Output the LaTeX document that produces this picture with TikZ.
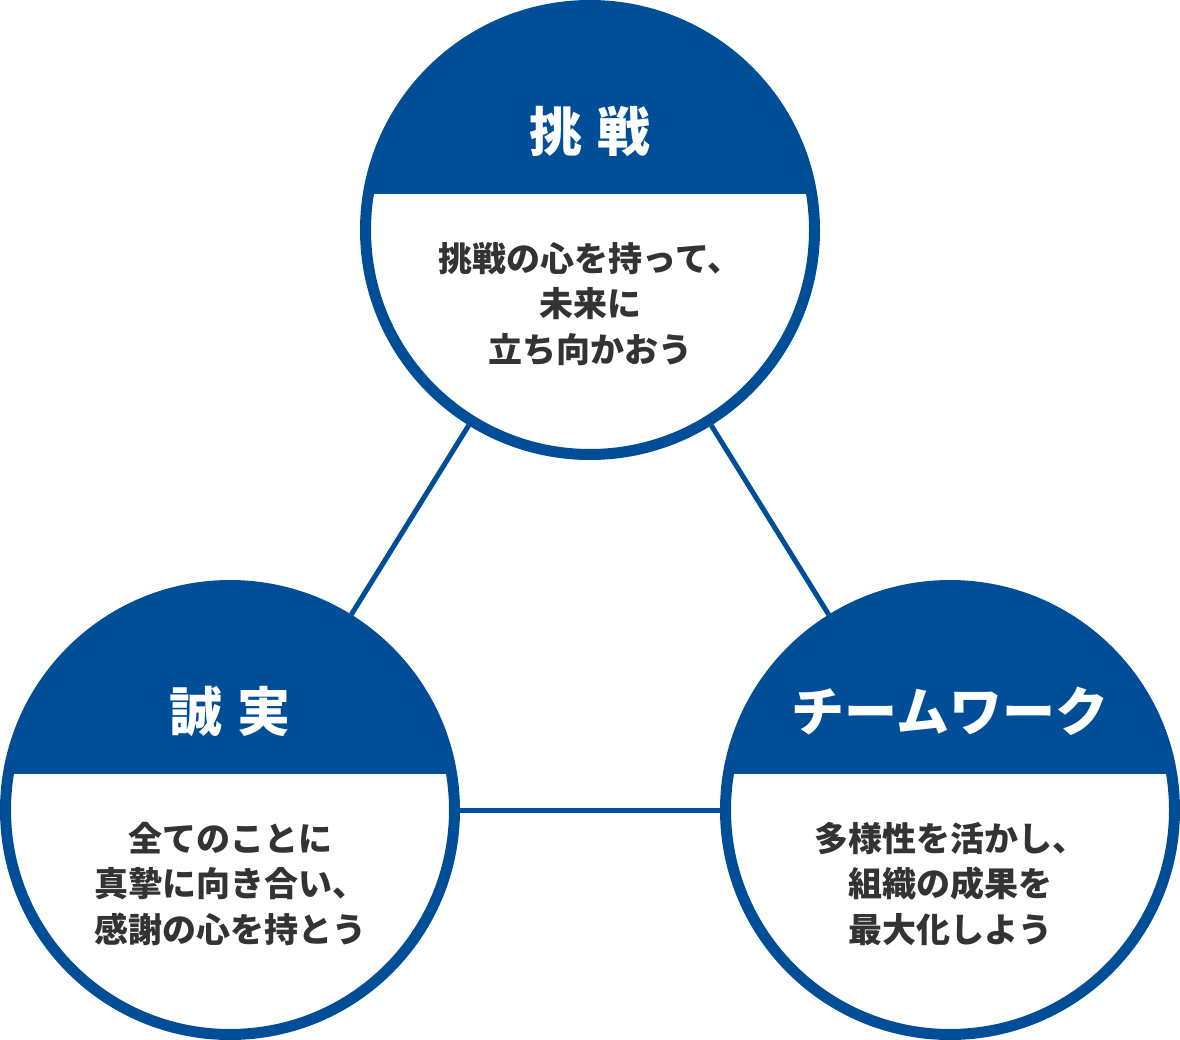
\documentclass[tikz,border=0pt]{standalone}
\usepackage{fontspec}
\setmainfont{Noto Sans CJK JP}
\usetikzlibrary{positioning}
\definecolor{kobalt}{RGB}{0,78,151}
\definecolor{sumi}{RGB}{51,51,51}

\begin{document}
\begin{tikzpicture}[x=1pt,y=-1pt,
   value/.style={circle,draw=kobalt,line width=11pt,fill=white,minimum size=449pt,inner sep=0pt,
      path picture={\fill[kobalt] (path picture bounding box.north west) rectangle ([yshift=36pt]path picture bounding box.east);}},
   head/.style={text=white,font=\fontsize{53}{60}\selectfont\bfseries},
   body/.style={text=sumi,align=center,font=\fontsize{34}{45.5}\selectfont\bfseries},
   link/.style={draw=kobalt,line width=5pt}]
\useasboundingbox (0,0) rectangle (1180,1040);
%
       \node [value] at (590,230) (challenge) {};
          \node [value] at (230,810) (honesty) {};
             \node [value] at (950,810) (teamwork) {};
%
\node [head] at ([yshift=99pt]challenge.center) (challenge head) {挑\hspace{0.28em}戦};
\node [head] at ([yshift=99pt]honesty.center) (honesty head) {誠\hspace{0.28em}実};
\node [head] at ([yshift=99pt]teamwork.center) (teamwork head) {チームワーク};
%
\node [body] at ([yshift=-74pt]challenge.center) (challenge text) {挑戦の心を持って、\\未来に\\立ち向かおう};
\node [body] at ([yshift=-74pt]honesty.center) (honesty text) {全てのことに\\真摯に向き合い、\\感謝の心を持とう};
\node [body] at ([yshift=-74pt]teamwork.center) (teamwork text) {多様性を活かし、\\組織の成果を\\最大化しよう};
%
\path[link] (challenge) -- (honesty);
\path[link] (challenge) -- (teamwork);
\path[link] (honesty) -- (teamwork);

\end{tikzpicture}
\end{document}
